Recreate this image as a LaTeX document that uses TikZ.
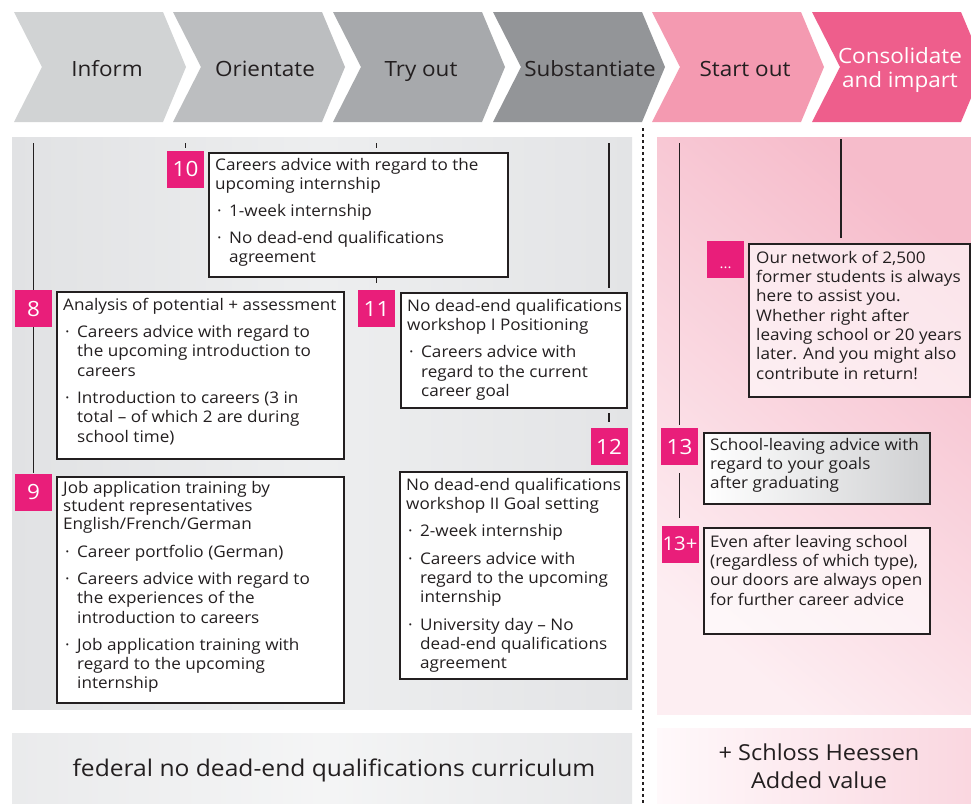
\documentclass[tikz,border=0pt]{standalone}
\usepackage{fontspec}
\setmainfont{Open Sans}[FakeStretch=1.07]
\usetikzlibrary{calc}
\definecolor{ink}{HTML}{231F20}
\definecolor{chA}{HTML}{D1D3D4}
\definecolor{chB}{HTML}{BCBEC0}
\definecolor{chC}{HTML}{A7A9AC}
\definecolor{chD}{HTML}{939598}
\definecolor{chE}{HTML}{F49AB1}
\definecolor{chF}{HTML}{EE5E8C}
\definecolor{magentaB}{HTML}{E91E7A}
\definecolor{grayL}{HTML}{E1E2E4}
\definecolor{grayM}{HTML}{EDEEEF}
\definecolor{grayR}{HTML}{E3E4E6}
\definecolor{pinkD}{HTML}{F6BCCB}
\definecolor{pinkL}{HTML}{FDEEF2}
\definecolor{pinkW}{HTML}{FFF9FB}
\definecolor{boxgray}{HTML}{CFD0D2}
\newcommand\bodyfont{\fontsize{16}{19.3}\selectfont}
\newcommand\badgefont{\fontsize{21}{21}\selectfont}
\newcommand\chevfont{\fontsize{21}{24}\selectfont}
\newcommand\fs{\rule{0pt}{13pt}}
\newcommand\bl{\makebox[14pt][l]{\hspace{2pt}·}}
\newcommand\ind{\hspace*{14pt}}
\newcommand\chevron[2]{\fill[#2] (#1,12) -- ++(149,0) -- ++(23,55) -- ++(-23,55) -- ++(-149,0) -- ++(28,-55) -- cycle;}
\begin{document}
\begin{tikzpicture}[x=1pt,y=-1pt,
  box/.style={draw=ink, line width=1.5pt, fill=white, rectangle, inner sep=0pt, anchor=north west},
  txt/.style={anchor=north west, align=left, inner sep=0pt, font=\bodyfont, text=ink},
  badge/.style={fill=magentaB, text=white, minimum size=37pt, inner sep=0pt, font=\badgefont},
  conn/.style={draw=ink, line width=1.1pt},
  chevlabel/.style={font=\chevfont, text=ink, align=center, inner sep=0pt, anchor=base}]
\useasboundingbox (0,0) rectangle (971,803);
\clip (0,0) rectangle (971,803);
\fill[white] (0,0) rectangle (971,803);
% chevrons
\chevron{14}{chA}
\chevron{173}{chB}
\chevron{333}{chC}
\chevron{493}{chD}
\chevron{652}{chE}
\chevron{812}{chF}
\node[chevlabel] (lInform) at (107,76) {Inform};
\node[chevlabel] (lOrient) at (265,76) {Orientate};
\node[chevlabel] (lTry) at (421,76) {Try out};
\node[chevlabel] (lSubst) at (590,76) {Substantiate};
\node[chevlabel] (lStart) at (745,76) {Start out};
\node[chevlabel, anchor=center, text=white] (lCons) at (900,70) {Consolidate\\and impart};
% panels
\shade[left color=grayL, right color=grayR, middle color=grayM] (12,137) rectangle (632,709);
\shade[top color=pinkD, bottom color=pinkL, shading angle=-40] (657,137) rectangle (971,714);
\shade[left color=grayL!70!white, right color=grayL!80!white, middle color=grayM!60!white] (12,733) rectangle (632,803);
\shade[left color=pinkW, right color=pinkD!60!white] (657,728) rectangle (971,803);
% dotted divider
\coordinate (dtop) at (643,128);
\coordinate (dbot) at (643,803);
\draw[ink, line width=1.3pt, dash pattern=on 3pt off 3pt] (dtop) -- (dbot);
% boxes
\node[box, minimum width=299pt, minimum height=124pt] (box10) at (208,152) {};
\node[box, minimum width=287pt, minimum height=167pt] (box8) at (56,291) {};
\node[box, minimum width=226pt, minimum height=115pt] (box11) at (400,292) {};
\node[box, minimum width=227pt, minimum height=207pt] (box12) at (399,471) {};
\node[box, minimum width=287pt, minimum height=226pt] (box9) at (56,476) {};
\node[box, fill opacity=0.6, minimum width=221pt, minimum height=153pt] (boxN) at (748,243) {};
\node[box, left color=white, right color=boxgray, minimum width=226pt, minimum height=71pt] (box13) at (703,432) {};
\node[box, fill opacity=0.6, minimum width=226pt, minimum height=106pt] (box13p) at (703,527) {};
% badges
\node[badge] (b10) at (185.5,169) {10};
\node[badge] (b8) at (33.5,308.5) {8};
\node[badge] (b11) at (376.5,308.5) {11};
\node[badge] (b12) at (609,446.5) {12};
\node[badge] (b9) at (33.5,492) {9};
\node[badge] (bN) at (725.5,259.5) {};
\node[font=\fontsize{14}{14}\selectfont, text=white, inner sep=0pt, anchor=base] (bNdots) at (725.5,268) {...};
\node[badge] (b13) at (679.5,446.5) {13};
\node[badge, font=\fontsize{19}{19}\selectfont] (b13p) at (680,544) {13+};
% connectors
\coordinate (a0) at (33.5,143);
\draw[conn] (a0) -- (b8.north);
\draw[conn] (b8.south) -- (b9.north);
\coordinate (t10a) at (185.5,143); \coordinate (t10b) at (185.5,148);
\draw[conn] (t10a) -- (t10b);
\coordinate (t11a) at (376.5,143); \coordinate (t11b) at (376.5,148);
\draw[conn] (t11a) -- (t11b);
\coordinate (t11c) at (376.5,278); \coordinate (t11d) at (376.5,283);
\draw[conn] (t11c) -- (t11d);
\coordinate (t12a) at (609,143); \coordinate (t12b) at (609,288);
\draw[conn] (t12a) -- (t12b);
\coordinate (t12c) at (609,413); \coordinate (t12d) at (609,422);
\draw[conn] (t12c) -- (t12d);
\coordinate (p13a) at (679.5,143);
\draw[conn, shorten >=3pt] (p13a) -- (b13.north);
\draw[conn, shorten <=8pt, shorten >=7pt] (b13.south) -- (b13.south |- b13p.north);
\coordinate (pNa) at (841,139);
\draw[conn, shorten >=5pt] (pNa) -- (pNa |- boxN.north);
% texts
\node[txt] (x10) at ($(box10.north west)+(7,5)$) {\fs Careers advice with regard to the\\
upcoming internship\\[7.5pt]
\bl 1-week internship\\[7.5pt]
\bl No dead-end qualifications\\
\ind agreement};
\node[txt] (x8) at ($(box8.north west)+(7,6)$) {\fs Analysis of potential + assessment\\[8pt]
\bl Careers advice with regard to\\
\ind the upcoming introduction to\\
\ind careers\\[8pt]
\bl Introduction to careers (3 in\\
\ind total – of which 2 are during\\
\ind school time)};
\node[txt] (x11) at ($(box11.north west)+(7,6)$) {\fs No dead-end qualifications\\
workshop I Positioning\\[8pt]
\bl Careers advice with\\
\ind regard to the current\\
\ind career goal};
\node[txt] (x12) at ($(box12.north west)+(7,6)$) {\fs No dead-end qualifications\\
workshop II Goal setting\\[8pt]
\bl 2-week internship\\[8pt]
\bl Careers advice with\\
\ind regard to the upcoming\\
\ind internship\\[8pt]
\bl University day – No\\
\ind dead-end qualifications\\
\ind agreement};
\node[txt] (x9) at ($(box9.north west)+(7,4)$) {\fs Job application training by\\[-1pt]
student representatives\\[-1pt]
English/French/German\\[8pt]
\bl Career portfolio (German)\\[8pt]
\bl Careers advice with regard to\\
\ind the experiences of the\\
\ind introduction to careers\\[8pt]
\bl Job application training with\\
\ind regard to the upcoming\\
\ind internship};
\node[txt] (xN) at ($(boxN.north west)+(8,7)$) {\fs Our network of 2,500\\
former students is always\\
here to assist you.\\
Whether right after\\
leaving school or 20 years\\
later. And you might also\\
contribute in return!};
\node[txt] (x13) at ($(box13.north west)+(7,5)$) {\fs School-leaving advice with\\
regard to your goals\\
after graduating};
\node[txt] (x13p) at ($(box13p.north west)+(7,7)$) {\fs Even after leaving school\\
(regardless of which type),\\
our doors are always open\\
for further career advice};
% bottom labels
\node[font=\fontsize{23}{28}\selectfont, text=ink, inner sep=0pt] (fed) at (334,770) {federal no dead-end qualifications curriculum};
\node[font=\fontsize{22}{28}\selectfont, text=ink, align=center, inner sep=0pt] (schloss) at (819,766) {+ Schloss Heessen\\Added value};
\end{tikzpicture}
\end{document}
